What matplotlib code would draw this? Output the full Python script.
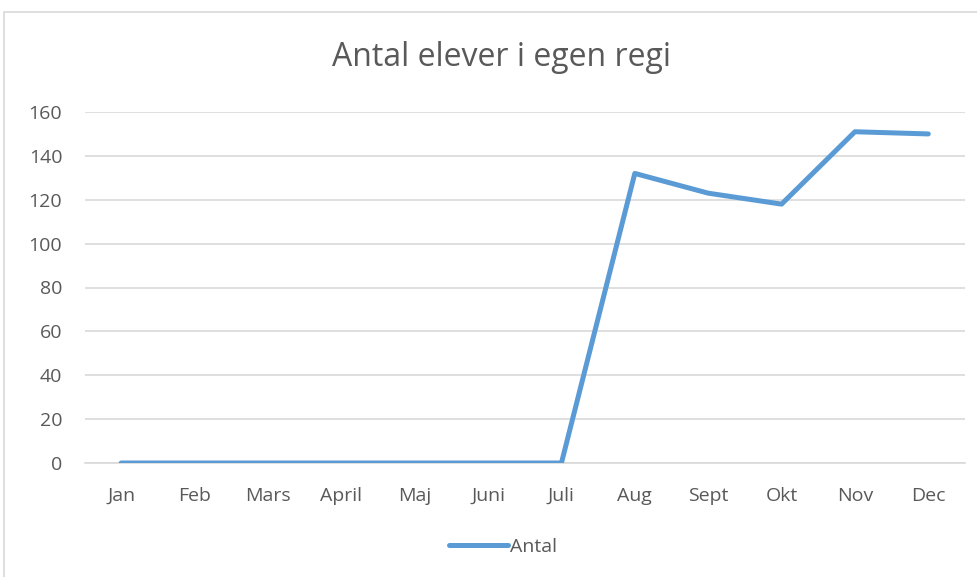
import matplotlib
matplotlib.use("Agg")
import matplotlib.pyplot as plt
from matplotlib.patches import Rectangle

# data
months = ["Jan", "Feb", "Mars", "April", "Maj", "Juni", "Juli",
          "Aug", "Sept", "Okt", "Nov", "Dec"]
antal = [0, 0, 0, 0, 0, 0, 0, 132, 123, 118, 151, 150]
yticks = [0, 20, 40, 60, 80, 100, 120, 140, 160]

W, H = 978, 577
plt.rcParams["font.family"] = ["Open Sans", "DejaVu Sans"]

fig = plt.figure(figsize=(W / 100, H / 100), dpi=100)
fig.patch.set_facecolor("white")

# chart border
fig.patches.append(Rectangle((4 / W, -0.01), 1.0, 1 - 12 / H + 0.01,
                             transform=fig.transFigure, fill=False,
                             edgecolor="#d9d9d9", linewidth=1.2))

ax = fig.add_axes([84.5 / W, 1 - 463 / H, (965 - 84.5) / W, (463 - 112) / H])
ax.plot(range(len(months)), antal, color="#5b9bd5", linewidth=3.6,
        solid_capstyle="round", solid_joinstyle="round", label="Antal", zorder=3)

ax.set_xlim(-0.5, len(months) - 0.5)
ax.set_ylim(0, 160)
ax.set_yticks(yticks)
ax.set_xticks(range(len(months)))
ax.set_xticklabels(months)
ax.tick_params(axis="both", length=0, labelsize=14, colors="#595959")
ax.tick_params(axis="x", pad=17)
ax.tick_params(axis="y", pad=16)
ax.grid(axis="y", color="#d9d9d9", linewidth=1.2)
ax.set_axisbelow(True)
for side in ["top", "right", "left"]:
    ax.spines[side].set_visible(False)
ax.spines["bottom"].set_color("#d9d9d9")
ax.spines["bottom"].set_linewidth(1.2)

fig.text(502 / W, 1 - 57 / H, "Antal elever i egen regi", ha="center",
         va="center", fontsize=23, color="#595959")

leg = ax.legend(loc="center", bbox_to_anchor=(503 / W, 1 - 547 / H),
                bbox_transform=fig.transFigure, frameon=False,
                fontsize=14, handlelength=3.0, handletextpad=0.1)
for t in leg.get_texts():
    t.set_color("#595959")

plt.savefig("out.png", dpi=100)
plt.close()
